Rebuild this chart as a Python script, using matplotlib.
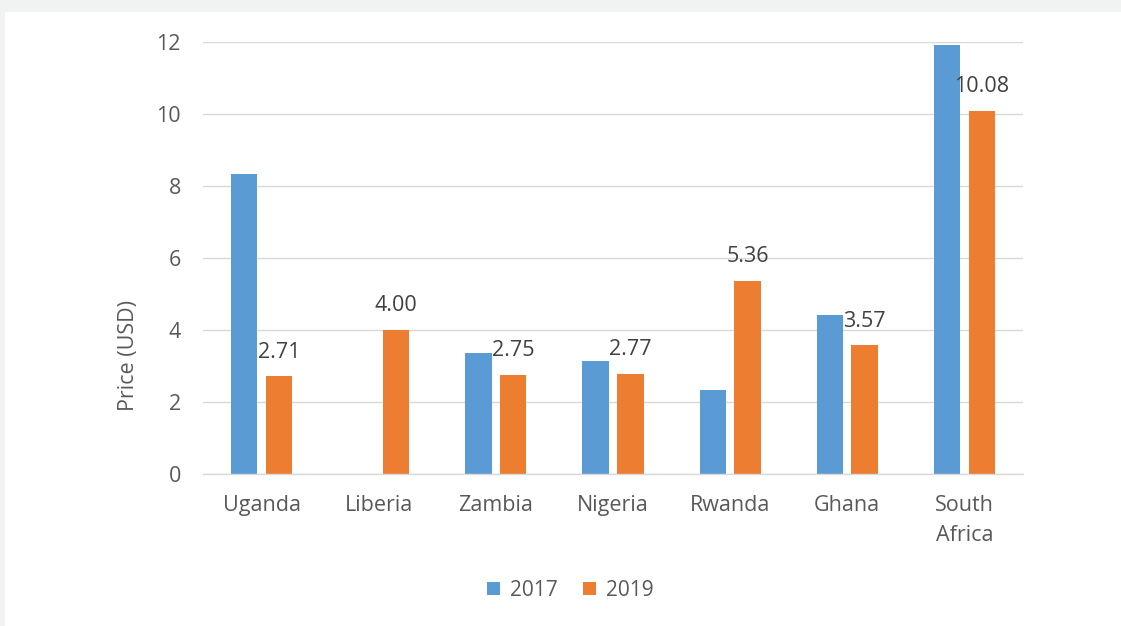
import matplotlib.pyplot as plt
import numpy as np
from matplotlib.patches import Rectangle

countries = ["Uganda", "Liberia", "Zambia", "Nigeria", "Rwanda", "Ghana", "South\nAfrica"]
price_2017 = [8.33, 0.0, 3.37, 3.15, 2.33, 4.41, 11.92]
price_2019 = [2.71, 4.00, 2.75, 2.77, 5.36, 3.57, 10.08]
yticks = [0, 2, 4, 6, 8, 10, 12]

blue = "#5b9bd5"
orange = "#ed7d31"
text_col = "#595959"
grid_col = "#d9d9d9"

plt.rcParams['font.family'] = ['Open Sans', 'DejaVu Sans']

fig = plt.figure(figsize=(11.21, 6.26), dpi=100, facecolor="#f1f2f2")
# white chart area inside the gray frame
fig.patches.append(Rectangle((5 / 1121, 0), 1, 1 - 12 / 626, transform=fig.transFigure,
                             facecolor="white", edgecolor="none", zorder=-10))

ax = fig.add_axes([203 / 1121, 1 - 474 / 626, 820 / 1121, 432 / 626])
ax.set_facecolor("none")

x = np.arange(len(countries))
w = 0.225
off = 0.148
ax.bar(x - off, price_2017, w, color=blue, label="2017", zorder=2)
ax.bar(x + off, price_2019, w, color=orange, label="2019", zorder=2)

for xi, v in zip(x, price_2019):
    ax.annotate(f"{v:.2f}", (xi + off, v), xytext=(0, 10), textcoords="offset points",
                ha="center", va="bottom", fontsize=15.5, color="#404040")

ax.set_xlim(-0.5, len(countries) - 0.5)
ax.set_ylim(0, 12)
ax.set_yticks(yticks)
ax.set_xticks(x)
ax.set_xticklabels(countries, fontsize=15.5, color=text_col, linespacing=1.6)
ax.tick_params(axis="y", labelsize=15.5, labelcolor=text_col, length=0, pad=16)
ax.tick_params(axis="x", length=0, pad=15)

ax.grid(axis="y", color=grid_col, linewidth=1, zorder=1)
for s in ["top", "right", "left"]:
    ax.spines[s].set_visible(False)
ax.spines["bottom"].set_color(grid_col)
ax.spines["bottom"].set_linewidth(1)

ax.set_ylabel("Price (USD)", fontsize=15.5, color=text_col)
ax.yaxis.set_label_coords(-0.078, 0.275)

fig.legend(loc="center", bbox_to_anchor=(0.509, 1 - 590 / 626), ncol=2, frameon=False,
           fontsize=15, handlelength=0.6, handleheight=0.6, handletextpad=0.5,
           columnspacing=1.2, labelcolor=text_col)

fig.savefig("out.png", dpi=100, facecolor=fig.get_facecolor())
